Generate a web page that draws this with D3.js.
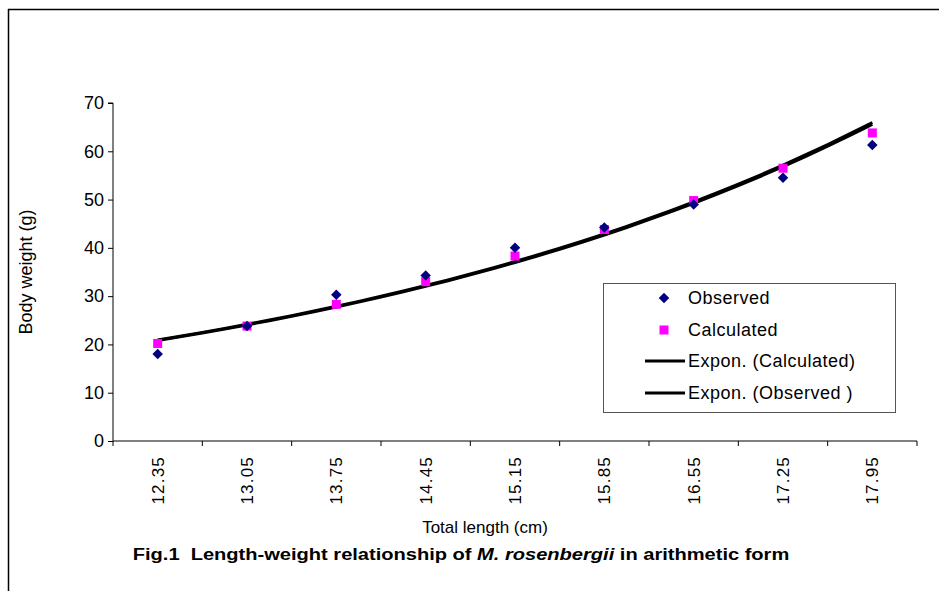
<!DOCTYPE html>
<html>
<head>
<meta charset="utf-8">
<script src="https://cdn.jsdelivr.net/npm/d3@7"></script>
<style>
  body { margin: 0; background: #fff; }
  text { font-family: "Liberation Sans", Arial, sans-serif; }
</style>
</head>
<body>
<svg id="canvas" width="939" height="591"></svg>
<script>
// data
const lengths = ["12.35", "13.05", "13.75", "14.45", "15.15", "15.85", "16.55", "17.25", "17.95"];
const observed = [18.0, 23.8, 30.3, 34.3, 40.0, 44.2, 49.0, 54.5, 61.3];
const calculated = [20.2, 23.8, 28.3, 33.0, 38.3, 43.8, 49.8, 56.5, 63.8];
const yTicks = [0, 10, 20, 30, 40, 50, 60, 70];

const svg = d3.select("#canvas");

// outer frame (top + left only)
svg.append("line").attr("x1", 8).attr("x2", 939).attr("y1", 9.5).attr("y2", 9.5)
  .attr("stroke", "#000").attr("stroke-width", 1.5);
svg.append("line").attr("x1", 8.5).attr("x2", 8.5).attr("y1", 9).attr("y2", 591)
  .attr("stroke", "#000").attr("stroke-width", 1.5);

const pLeft = 113, pRight = 917, pTop = 103, pBottom = 441;

const x = d3.scaleBand().domain(lengths).range([pLeft, pRight]);
const y = d3.scaleLinear().domain([0, 70]).range([pBottom, pTop]);

// y axis
const yAxis = svg.append("g")
  .attr("transform", `translate(${pLeft},0)`)
  .call(d3.axisLeft(y).tickValues(yTicks).tickSize(5).tickPadding(4));
yAxis.select(".domain").attr("stroke", "#000").attr("d", `M-5,${pTop}H0V${pBottom}`);
yAxis.selectAll("text").attr("font-size", 18).attr("fill", "#000")
  .style("font-family", "Liberation Sans, Arial, sans-serif");

// x axis: ticks at category boundaries
const xg = svg.append("g");
xg.append("line").attr("x1", pLeft).attr("x2", pRight).attr("y1", pBottom).attr("y2", pBottom)
  .attr("stroke", "#000");
const bounds = lengths.map(d => x(d)).concat([pRight]);
xg.selectAll(".xt").data(bounds).enter().append("line")
  .attr("x1", d => d).attr("x2", d => d)
  .attr("y1", pBottom).attr("y2", pBottom + 5)
  .attr("stroke", "#000");
xg.selectAll(".xl").data(lengths).enter().append("text")
  .attr("transform", d => `translate(${x(d) + x.bandwidth() / 2 + 6},${pBottom + 15}) rotate(-90)`)
  .attr("text-anchor", "end")
  .attr("font-size", 17)
  .attr("letter-spacing", 1.2)
  .text(d => d);

// exponential trendlines (least squares on ln y vs point index, as a spreadsheet does)
function expFit(vals) {
  const xs = vals.map((v, i) => i + 1);
  const ls = vals.map(v => Math.log(v));
  const mx = d3.mean(xs), ml = d3.mean(ls);
  const b = d3.sum(xs, (xi, i) => (xi - mx) * (ls[i] - ml)) / d3.sum(xs, xi => (xi - mx) ** 2);
  const a = Math.exp(ml - b * mx);
  return t => a * Math.exp(b * t);
}
const px = t => x(lengths[0]) + x.bandwidth() / 2 + (t - 1) * x.step();
const line = d3.line().x(d => px(d[0])).y(d => y(d[1]));
[calculated, observed].forEach(series => {
  const f = expFit(series);
  const pts = d3.range(1, 9.001, 0.25).map(t => [t, f(t)]);
  svg.append("path").attr("d", line(pts))
    .attr("fill", "none").attr("stroke", "#000").attr("stroke-width", 3);
});

// calculated markers
svg.selectAll(".calc").data(calculated).enter().append("rect")
  .attr("x", (d, i) => x(lengths[i]) + x.bandwidth() / 2 - 4.5)
  .attr("y", d => y(d) - 4.5)
  .attr("width", 9).attr("height", 9)
  .attr("fill", "#ff00ff");

// observed markers
const diamond = d3.symbol().type(d3.symbolDiamond2).size(70);
svg.selectAll(".obs").data(observed).enter().append("path")
  .attr("d", diamond)
  .attr("transform", (d, i) => `translate(${x(lengths[i]) + x.bandwidth() / 2},${y(d)})`)
  .attr("fill", "#000080");

// legend
const lg = svg.append("g");
lg.append("rect").attr("x", 603.5).attr("y", 283.5).attr("width", 292).attr("height", 129)
  .attr("fill", "#fff").attr("stroke", "#555");
const legendItems = ["Observed", "Calculated", "Expon. (Calculated)", "Expon. (Observed )"];
const ly = [298, 330, 361, 393];
legendItems.forEach((t, i) => {
  if (i === 0) {
    lg.append("path").attr("d", diamond).attr("transform", `translate(664,${ly[i]})`)
      .attr("fill", "#000080");
  } else if (i === 1) {
    lg.append("rect").attr("x", 659.5).attr("y", ly[i] - 4.5).attr("width", 9).attr("height", 9)
      .attr("fill", "#ff00ff");
  } else {
    lg.append("line").attr("x1", 645).attr("x2", 685).attr("y1", ly[i]).attr("y2", ly[i])
      .attr("stroke", "#000").attr("stroke-width", 3);
  }
  lg.append("text").attr("x", 688).attr("y", ly[i] + 6).attr("font-size", 18)
    .attr("letter-spacing", 0.5).text(t);
});

// axis titles
svg.append("text")
  .attr("transform", `translate(32,${(pTop + pBottom) / 2}) rotate(-90)`)
  .attr("text-anchor", "middle").attr("font-size", 18)
  .text("Body weight (g)");
svg.append("text")
  .attr("x", 485).attr("y", 533)
  .attr("text-anchor", "middle").attr("font-size", 17)
  .text("Total length (cm)");

const cap = svg.append("text")
  .attr("x", 0).attr("y", 0)
  .attr("text-anchor", "middle").attr("font-size", 16).attr("font-weight", "bold");
cap.append("tspan").text("Fig.1  Length-weight relationship of ");
cap.append("tspan").attr("font-style", "italic").text("M. rosenbergii");
cap.append("tspan").text(" in arithmetic form");
cap.style("white-space", "pre");
const cw = cap.node().getComputedTextLength();
cap.attr("transform", `translate(461,560) scale(${657 / cw},1)`);
</script>
</body>
</html>
